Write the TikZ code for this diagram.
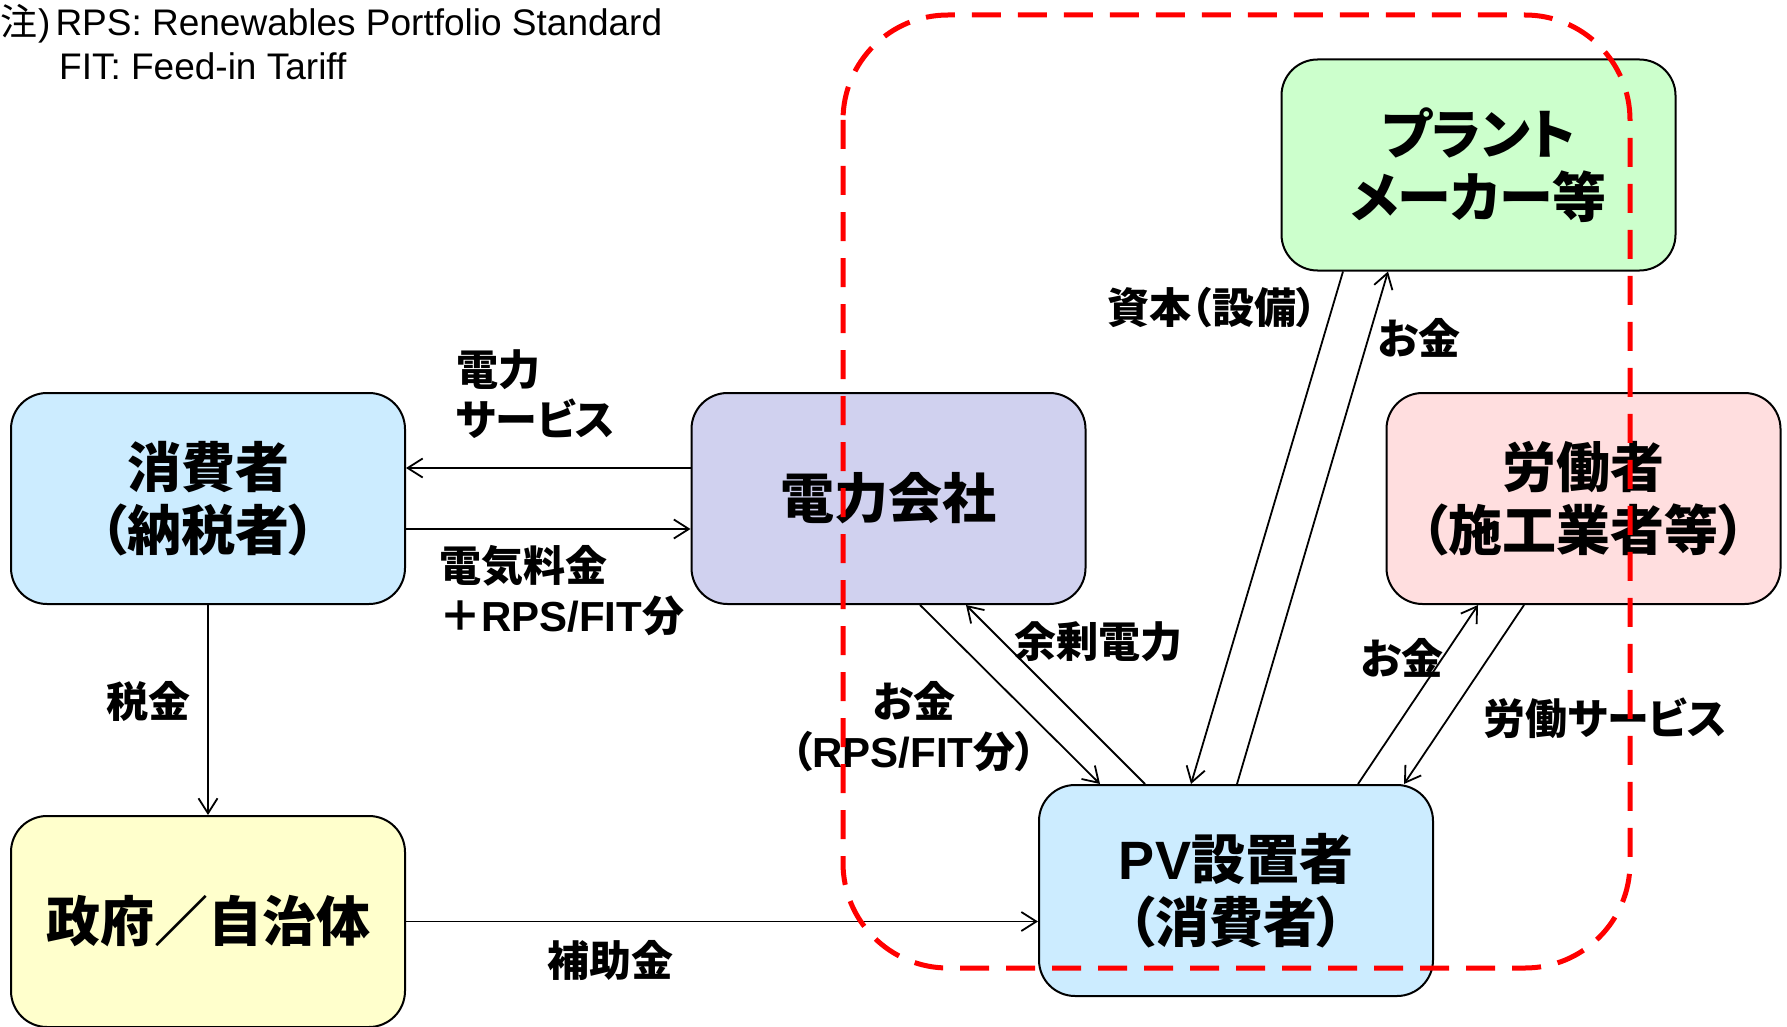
\documentclass[tikz,border=0pt]{standalone}
\usepackage{fontspec}
\setmainfont{Liberation Sans}
\newfontfamily\jp[RawFeature=+palt]{Noto Sans CJK JP}
\usetikzlibrary{arrows.meta}
\definecolor{cblue}{RGB}{204,236,255}
\definecolor{clav}{RGB}{208,209,239}
\definecolor{cgreen}{RGB}{204,255,204}
\definecolor{cpink}{RGB}{255,222,223}
\definecolor{cyellow}{RGB}{255,255,204}
\definecolor{cred}{RGB}{255,0,0}
\newcommand\BoxFont{\jp\bfseries\fontsize{54}{63}\selectfont}
\newcommand\LblFont{\jp\bfseries\fontsize{42}{50}\selectfont}
\newcommand\lat[1]{{\normalfont\bfseries #1}}
\tikzset{
  box/.style={draw=black, line width=2pt, rounded corners=36pt, minimum width=394pt,
    minimum height=211pt, inner sep=0pt, align=center, font=\BoxFont},
  arr/.style={line width=1.8pt, -{Straight Barb[length=15pt,width=19pt,line width=1.8pt]}},
  lbl/.style={font=\LblFont, inner sep=0pt},
  notetxt/.style={font=\fontsize{37}{43}\selectfont, inner sep=0pt, anchor=base west},
  reddash/.style={draw=cred, line width=5pt, dash pattern=on 29pt off 17pt, rounded corners=105pt}
}
\begin{document}
\begin{tikzpicture}[x=1pt,y=-1pt]
\useasboundingbox (0,0) rectangle (1787,1027);
% notes
\node[notetxt] (note1) at (0,36) {{\jp 注}\kern1pt)\kern5pt RPS: Renewables Portfolio Standard};
\node[notetxt] (note2) at (59,80) {FIT: Feed-in Tariff};
% boxes
\node[box, fill=cblue] (cons) at (208,498.5) {消費者\\（納税者）};
\node[box, fill=clav] (elec) at (888.5,498.5) {電力会社};
\node[box, fill=cgreen] (plant) at (1478.5,165) {プラント\\メーカー等};
\node[box, fill=cpink] (labor) at (1583.5,498.5) {労働者\\（施工業者等）};
\node[box, fill=cyellow] (gov) at (208,921.5) {政府／自治体};
\node[box, fill=cblue] (pv) at (1236,890.5) {\lat{PV}設置者\\（消費者）};
% connectors
\draw[arr] ([yshift=30.5pt]elec.west) -- ([yshift=30.5pt]cons.east);
\draw[arr] ([yshift=-30.5pt]cons.east) -- ([yshift=-30.5pt]elec.west);
\draw[arr] (cons) -- (gov);
\draw[arr] (gov.east) -- (gov.east -| pv.west);
\draw[arr] ([xshift=31.5pt]elec.south) -- ([xshift=-136pt]pv.north);
\draw[arr] ([xshift=-91pt]pv.north) -- ([xshift=77.5pt]elec.south);
\draw[arr] ([xshift=-135.5pt]plant.south) -- ([xshift=-45pt]pv.north);
\draw[arr] ([xshift=1pt]pv.north) -- ([xshift=-90.5pt]plant.south);
\draw[arr] ([xshift=122pt]pv.north) -- ([xshift=-105.5pt]labor.south);
\draw[arr] ([xshift=-59.5pt]labor.south) -- ([xshift=168pt]pv.north);
% labels
\node[lbl, anchor=west, align=left] (l1) at (456,394.5) {電力\\サービス};
\node[lbl, anchor=west, align=left] (l2) at (439,591) {電気料金\\＋\lat{RPS/FIT}分};
\node[lbl] (l3) at (148,701) {税金};
\node[lbl] (l4) at (610,960) {補助金};
\node[lbl] (l5) at (1212,308) {資本（設備）};
\node[lbl] (l6) at (1419,338) {お金};
\node[lbl] (l7) at (1098,642) {余剰電力};
\node[lbl, align=center] (l8) at (914,727) {お金\\（\lat{RPS/FIT}分）};
\node[lbl] (l9) at (1402,658) {お金};
\node[lbl] (l10) at (1605,718) {労働サービス};
% red dashed boundary
\draw[reddash] (843,15) rectangle (1630,968);
\end{tikzpicture}
\end{document}
